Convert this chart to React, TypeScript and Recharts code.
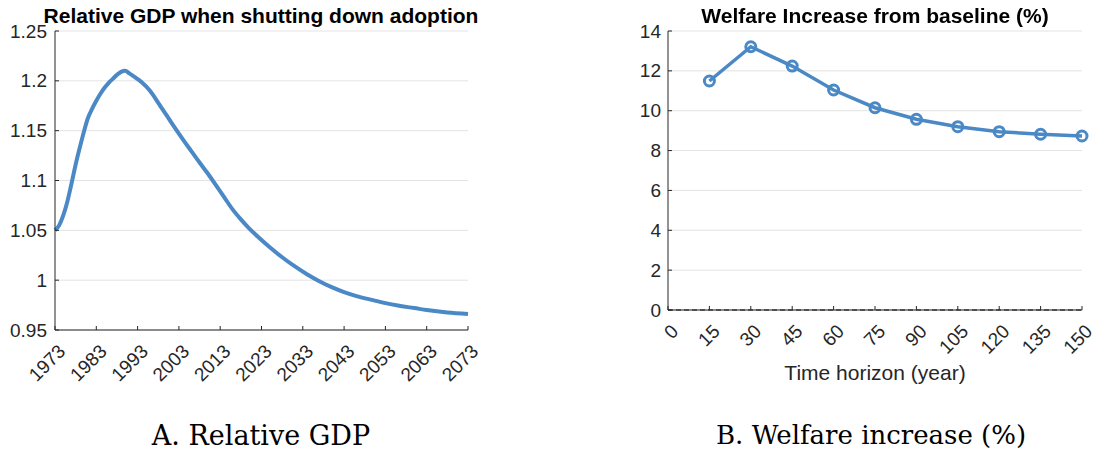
import React from 'react';
import {
  LineChart,
  Line,
  XAxis,
  YAxis,
  CartesianGrid,
  ReferenceLine,
} from 'recharts';

// --- Panel A: relative GDP when shutting down adoption ---
const gdpYears = [
  1973, 1974, 1975, 1976, 1977, 1978, 1979, 1980, 1981, 1982, 1983, 1984, 1985, 1986, 1987,
  1988, 1989, 1990, 1991, 1992, 1993, 1994, 1996, 1998, 2000, 2002, 2004, 2006, 2008, 2010,
  2012, 2014, 2016, 2018, 2020, 2022, 2025, 2028, 2031, 2034, 2037, 2040, 2043, 2046, 2050,
  2053, 2056, 2060, 2063, 2068, 2073,
];
const gdpValues = [
  1.05, 1.055, 1.065, 1.079, 1.097, 1.116, 1.133, 1.149, 1.163, 1.172, 1.18, 1.187, 1.193,
  1.198, 1.202, 1.206, 1.209, 1.21, 1.2075, 1.2048, 1.2018, 1.1985, 1.19, 1.178, 1.1655, 1.153,
  1.141, 1.1295, 1.118, 1.107, 1.095, 1.083, 1.071, 1.061, 1.052, 1.044, 1.033, 1.023, 1.014,
  1.006, 0.999, 0.993, 0.988, 0.984, 0.98, 0.977, 0.9745, 0.972, 0.97, 0.9675, 0.966,
];
const gdpXTicks = [1973, 1983, 1993, 2003, 2013, 2023, 2033, 2043, 2053, 2063, 2073];
const gdpYTicks = [0.95, 1, 1.05, 1.1, 1.15, 1.2, 1.25];

// --- Panel B: welfare increase from baseline (%) ---
const horizons = [15, 30, 45, 60, 75, 90, 105, 120, 135, 150];
const welfare = [11.49, 13.21, 12.24, 11.04, 10.15, 9.57, 9.2, 8.95, 8.82, 8.73];
const horizonTicks = [0, 15, 30, 45, 60, 75, 90, 105, 120, 135, 150];
const welfareTicks = [0, 2, 4, 6, 8, 10, 12, 14];

const gdpData = gdpYears.map((year, i) => ({ year, value: gdpValues[i] }));
const welfareData = horizons.map((h, i) => ({ h, value: welfare[i] }));

const BLUE = '#4a89c5';
const AXIS = '#262626';
const GRID = '#e3e3e3';
const SANS = '"Liberation Sans", Arial, sans-serif';
const TICK_FS = 19;

// rotated tick label, anchored like matlab does (end of text below-right of the tick)
const RotTick = (props: any) => {
  const { x, y, payload } = props;
  return (
    <text
      transform={`translate(${x + 7},${y + 18}) rotate(-45)`}
      textAnchor="end"
      dominantBaseline="central"
      fontSize={TICK_FS}
      fontFamily={SANS}
      fill={AXIS}
    >
      {payload.value}
    </text>
  );
};

const YTick = (props: any) => {
  const { x, y, payload } = props;
  return (
    <text x={x} y={y} textAnchor="end" dominantBaseline="central" fontSize={TICK_FS} fontFamily={SANS} fill={AXIS}>
      {payload.value}
    </text>
  );
};

const titleStyle: React.CSSProperties = {
  position: 'absolute',
  top: 4,
  fontFamily: SANS,
  fontWeight: 'bold',
  fontSize: 21,
  color: '#000',
  textAlign: 'center',
  whiteSpace: 'nowrap',
};

const captionStyle: React.CSSProperties = {
  position: 'absolute',
  top: 420,
  fontFamily: '"DejaVu Serif", serif',
  fontSize: 27,
  color: '#000',
  textAlign: 'center',
  whiteSpace: 'nowrap',
};

export default function App() {
  return (
    <div style={{ position: 'fixed', left: 0, top: 0, width: 1096, height: 457, background: '#fff' }}>
      {/* Panel A */}
      <div style={{ position: 'absolute', left: 0, top: 0 }}>
        <LineChart width={500} height={400} data={gdpData} margin={{ top: 31, right: 32, left: 0, bottom: 0 }}>
          <CartesianGrid vertical={false} stroke={GRID} />
          <XAxis
            dataKey="year"
            type="number"
            domain={[1973, 2073]}
            ticks={gdpXTicks}
            height={70}
            stroke={AXIS}
            tickSize={-4}
            tickMargin={4}
            tick={<RotTick />}
            interval={0}
          />
          <XAxis xAxisId="top" orientation="top" type="number" domain={[1973, 2073]} ticks={gdpXTicks} height={0} stroke={AXIS} tickSize={-4} tick={false} interval={0} />
          <YAxis
            type="number"
            domain={[0.95, 1.25]}
            ticks={gdpYTicks}
            width={55}
            stroke={AXIS}
            tickSize={-4}
            tickMargin={12}
            tick={<YTick />}
            interval={0}
          />
          <YAxis yAxisId="right" orientation="right" type="number" domain={[0.95, 1.25]} ticks={gdpYTicks} width={0} stroke={AXIS} tickSize={-4} tick={false} interval={0} />
          <Line type="monotone" dataKey="value" stroke={BLUE} strokeWidth={4} dot={false} isAnimationActive={false} />
        </LineChart>
      </div>
      <div style={{ ...titleStyle, left: 11, width: 500 }}>Relative GDP when shutting down adoption</div>

      {/* Panel B */}
      <div style={{ position: 'absolute', left: 600, top: 0 }}>
        <LineChart width={496} height={400} data={welfareData} margin={{ top: 31, right: 14, left: 0, bottom: 0 }}>
          <CartesianGrid vertical={false} stroke={GRID} />
          <XAxis
            dataKey="h"
            type="number"
            domain={[0, 150]}
            ticks={horizonTicks}
            height={90}
            stroke={AXIS}
            tickSize={-4}
            tickMargin={4}
            tick={<RotTick />}
            interval={0}
          />
          <XAxis xAxisId="top" orientation="top" type="number" domain={[0, 150]} ticks={horizonTicks} height={0} stroke={AXIS} tickSize={-4} tick={false} interval={0} />
          <YAxis
            type="number"
            domain={[0, 14]}
            ticks={welfareTicks}
            width={68}
            stroke={AXIS}
            tickSize={-4}
            tickMargin={11}
            tick={<YTick />}
            interval={0}
          />
          <YAxis yAxisId="right" orientation="right" type="number" domain={[0, 14]} ticks={welfareTicks} width={0} stroke={AXIS} tickSize={-4} tick={false} interval={0} />
          <ReferenceLine y={0} stroke="#000" strokeDasharray="5 3" strokeWidth={1} />
          <Line
            type="linear"
            dataKey="value"
            stroke={BLUE}
            strokeWidth={3.5}
            dot={{ r: 5, strokeWidth: 3, fill: 'none', stroke: BLUE }}
            isAnimationActive={false}
          />
        </LineChart>
      </div>
      <div style={{ ...titleStyle, left: 625, width: 500 }}>Welfare Increase from baseline (%)</div>
      <div style={{ position: 'absolute', left: 725, top: 361, width: 300, textAlign: 'center', fontFamily: SANS, fontSize: 21, color: AXIS, whiteSpace: 'nowrap' }}>
        Time horizon (year)
      </div>

      {/* captions */}
      <div style={{ ...captionStyle, left: 111, width: 300 }}>A. Relative GDP</div>
      <div style={{ ...captionStyle, left: 716, width: 300, fontSize: 26 }}>B. Welfare increase (%)</div>
    </div>
  );
}
